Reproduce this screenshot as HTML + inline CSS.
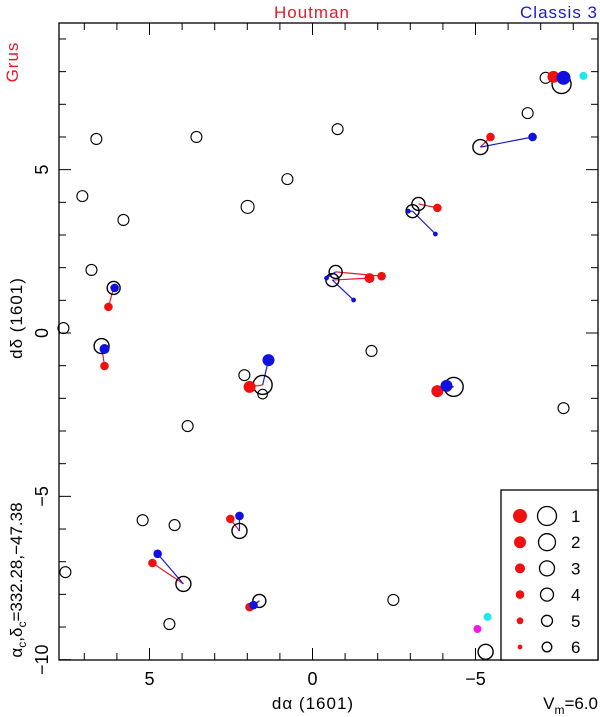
<!DOCTYPE html>
<html><head><meta charset="utf-8"><style>
html,body{margin:0;padding:0;background:#fff;}
svg{display:block;font-family:"Liberation Sans",sans-serif;}
</style></head><body>
<svg id="chart" width="600" height="717" viewBox="0 0 600 717" xmlns="http://www.w3.org/2000/svg">
<rect x="0" y="0" width="600" height="717" fill="#fff"/>
<g id="ticks"></g>
<g id="marks"></g>
<rect x="59" y="23" width="539" height="637" fill="none" stroke="#000" stroke-width="1.3"/>
<text x="312" y="18" text-anchor="middle" fill="#e8192c" font-size="17" letter-spacing="1">Houtman</text>
<text x="598" y="18" text-anchor="end" fill="#1a1ad0" font-size="17" letter-spacing="1">Classis 3</text>
<text transform="translate(18,62) rotate(-90)" text-anchor="middle" fill="#e8192c" font-size="17" letter-spacing="1">Grus</text>
<text x="313" y="709" text-anchor="middle" font-size="17" letter-spacing="1">dα (1601)</text>
<text transform="translate(22,318) rotate(-90)" text-anchor="middle" font-size="17" letter-spacing="1">dδ (1601)</text>
<text transform="translate(22,580) rotate(-90)" text-anchor="middle" font-size="17">α<tspan font-size="12" dy="4">c</tspan><tspan dy="-4">,δ</tspan><tspan font-size="12" dy="4">c</tspan><tspan dy="-4">=332.28,−47.38</tspan></text>
<text x="598" y="709" text-anchor="end" font-size="17">V<tspan font-size="12" dy="5">m</tspan><tspan dy="-5">=6.0</tspan></text>
<g id="legend"></g>
</svg>
<script>
const xTicks=[5,0,-5];
const yTicks=[5,0,-5,-10];
const groupCircleX=[-7.64,-5.15,-3.25,-3.07,-0.71,-0.61,1.53,-4.33,6.10,6.47,2.24,3.96,1.63,-5.31];
const groupCircleY=[7.62,5.69,3.95,3.73,1.87,1.62,-1.59,-1.65,1.38,-0.40,-6.06,-7.68,-8.20,-9.76];
const groupCircleMag=[1,3,4,4,4,4,1,1,4,3,3,3,4,3];
const fieldX=[-7.15,6.63,7.06,5.80,3.56,1.99,0.77,-0.77,6.78,7.64,-1.81,3.83,-7.70,7.58,5.21,4.23,4.39,-2.48,-6.60,2.09,1.53];
const fieldY=[7.81,5.94,4.19,3.46,6.00,3.86,4.71,6.24,1.93,0.15,-0.55,-2.85,-2.30,-7.32,-5.73,-5.88,-8.91,-8.17,6.73,-1.29,-1.87];
const fieldMag=[5,5,5,5,5,4,5,5,5,5,5,5,5,5,5,5,5,5,5,5,6];
const redX=[-7.39,-5.46,-3.83,-1.75,-2.12,1.93,-3.83,6.26,6.38,2.52,4.91,1.93];
const redY=[7.84,6.00,3.83,1.68,1.74,-1.65,-1.78,0.80,-1.01,-5.69,-7.04,-8.39];
const redMag=[2,4,4,3,4,2,2,4,4,4,4,4];
const redLink=[0,1,2,5,4,6,7,8,9,10,11,12];
const blueX=[-7.70,-6.75,-2.94,-3.77,-0.43,-1.26,1.35,-4.11,6.07,6.38,2.24,4.75,1.81];
const blueY=[7.81,6.00,3.73,3.03,1.68,1.01,-0.83,-1.62,1.38,-0.49,-5.60,-6.76,-8.33];
const blueMag=[1,4,6,6,6,6,2,2,4,3,4,4,4];
const blueLink=[0,1,3,3,4,5,6,7,8,9,10,11,12];
const extraX=[-8.31,-5.06,-5.37];
const extraY=[7.87,-9.06,-8.69];
const extraColor=["#1ee8ee","#f01af0","#1ee8ee"];

const X0=59,X1=598,Y0=23,Y1=660;
function sx(v){return 312.5-v*32.6;}
function sy(v){return 333-v*32.67;}
function ringR(m){return [0,9.5,8.5,7.5,6.5,5.5,4.8][m];}
function dotR(m){return [0,7,6,5,4.3,3.4,2.4][m];}
const NS='http://www.w3.org/2000/svg';
function mk(tag,attrs,parent){const e=document.createElementNS(NS,tag);for(const k in attrs)e.setAttribute(k,attrs[k]);parent.appendChild(e);return e;}
const T=document.getElementById('ticks'),M=document.getElementById('marks'),L=document.getElementById('legend');
for(let v=-8;v<=7;v++){const x=sx(v);if(x<X0||x>X1)continue;const len=v%5===0?12:7;
 const a=mk('line',{x1:x,y1:Y1,x2:x,y2:Y1-len,stroke:'#000','stroke-width':1},T);
 
 
 const b=mk('line',{x1:x,y1:Y0,x2:x,y2:Y0+len,stroke:'#000','stroke-width':1},T);
 
 }
for(let v=-10;v<=9;v++){const y=sy(v);if(y<Y0||y>Y1)continue;const len=v%5===0?12:7;
 const a=mk('line',{x1:X0,y1:y,x2:X0+len,y2:y,stroke:'#000','stroke-width':1},T);
 
 
 const b=mk('line',{x1:X1,y1:y,x2:X1-len,y2:y,stroke:'#000','stroke-width':1},T);
 
 }
xTicks.forEach(v=>{const t=mk('text',{x:sx(v),y:685,'text-anchor':'middle','font-size':18},T);t.textContent=v<0?'−'+(-v):String(v);
 
 });
yTicks.forEach(v=>{const t=mk('text',{transform:`translate(48,${sy(v)}) rotate(-90)`,'text-anchor':'middle','font-size':18},T);t.textContent=v<0?'−'+(-v):String(v);
 
 });
redX.forEach((v,i)=>{const g=redLink[i];const l=mk('line',{x1:sx(groupCircleX[g]),y1:sy(groupCircleY[g]),x2:sx(v),y2:sy(redY[i]),stroke:'#e8192c','stroke-width':1.2},M);
 
 });
blueX.forEach((v,i)=>{const g=blueLink[i];const l=mk('line',{x1:sx(groupCircleX[g]),y1:sy(groupCircleY[g]),x2:sx(v),y2:sy(blueY[i]),stroke:'#1a1ad0','stroke-width':1.2},M);
 
 });
fieldX.forEach((v,i)=>{const c=mk('circle',{cx:sx(v),cy:sy(fieldY[i]),r:ringR(fieldMag[i]),fill:'none',stroke:'#000','stroke-width':1.1},M);
 
 });
groupCircleX.forEach((v,i)=>{const c=mk('circle',{cx:sx(v),cy:sy(groupCircleY[i]),r:ringR(groupCircleMag[i]),fill:'none',stroke:'#000','stroke-width':1.4},M);
 
 });
redX.forEach((v,i)=>{const c=mk('circle',{cx:sx(v),cy:sy(redY[i]),r:dotR(redMag[i]),fill:'#f01010'},M);
 
 });
blueX.forEach((v,i)=>{const c=mk('circle',{cx:sx(v),cy:sy(blueY[i]),r:dotR(blueMag[i]),fill:'#1010e0'},M);
 
 });
extraX.forEach((v,i)=>{const c=mk('circle',{cx:sx(v),cy:sy(extraY[i]),r:4,fill:extraColor[i]},M);
 
 });
const lb=mk('rect',{x:501,y:490,width:97,height:170,fill:'#fff',stroke:'#000','stroke-width':1.3},L);


const legMags=[1,2,3,4,5,6];
legMags.forEach((m,i)=>{const y=516+i*26.2;
 const d=mk('circle',{cx:520,cy:y,r:dotR(m),fill:'#f01010'},L);
 
 
 const r=mk('circle',{cx:547,cy:y,r:ringR(m),fill:'none',stroke:'#000','stroke-width':1.3},L);
 
 
 const t=mk('text',{x:571,y:y+6,'font-size':17},L);t.textContent=String(m);
 
 });
</script>
</body></html>
